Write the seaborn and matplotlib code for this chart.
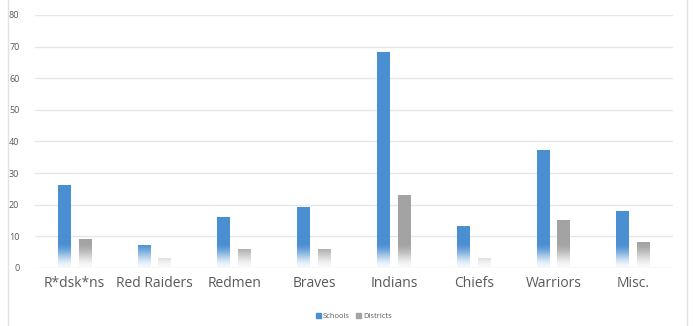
import numpy as np
import pandas as pd
import seaborn as sns
import matplotlib.pyplot as plt
from matplotlib.patches import Patch
from matplotlib.lines import Line2D
from matplotlib.colors import to_rgb

mascots = ["R*dsk*ns", "Red Raiders", "Redmen", "Braves", "Indians", "Chiefs", "Warriors", "Misc."]
schools = [26, 7, 16, 19, 68, 13, 37, 18]
districts = [9, 3, 6, 6, 23, 3, 15, 8]
series = ["Schools", "Districts"]
colors = ["#4a8fd2", "#a3a3a3"]

df = pd.DataFrame({
    "Mascot": mascots * 2,
    "Count": schools + districts,
    "Series": [series[0]] * len(mascots) + [series[1]] * len(mascots),
})

sns.set_style("white")
plt.rcParams["font.family"] = ["Open Sans", "DejaVu Sans"]
text_col = "#5a5a5a"

fig = plt.figure(figsize=(6.94, 3.26), dpi=100)
ax = fig.add_axes([0.050, 0.178, 0.920, 0.776])

sns.barplot(data=df, x="Mascot", y="Count", hue="Series", palette=colors,
            width=0.52, gap=0.38, ax=ax, legend=False)

xlim = ax.get_xlim()

# replace the flat bars with a white-to-colour fade at the bottom
fade = 8.0
for cont, col in zip(ax.containers, colors):
    rgb = np.array(to_rgb(col))
    for p in cont:
        x0, w, h = p.get_x(), p.get_width(), p.get_height()
        ys = np.linspace(0, h, 300)
        t = np.clip(ys / fade, 0, 1)
        t = t * t * (3 - 2 * t)
        t = 0.05 + 0.95 * t
        img = (1 - t)[:, None] * np.ones(3) + t[:, None] * rgb
        img = np.repeat(img[:, None, :], 2, axis=1)
        ax.imshow(img, origin="lower", extent=[x0, x0 + w, 0, h],
                  aspect="auto", interpolation="bilinear", zorder=3)
        p.set_visible(False)

ax.set_xlim(xlim)
ax.set_ylim(0, 80)
ax.set_yticks(range(0, 81, 10))
ax.grid(axis="y", color="#e3e6ea", linewidth=1)
ax.set_axisbelow(True)
for s in ax.spines.values():
    s.set_visible(False)

ax.set_xlabel("")
ax.set_ylabel("")
ax.tick_params(axis="y", length=0, pad=11, labelsize=6.5, labelcolor=text_col)
ax.tick_params(axis="x", length=0, pad=6, labelsize=10, labelcolor=text_col)

handles = [Patch(color=c) for c in colors]
ax.legend(handles, series, loc="center", bbox_to_anchor=(0.5, -0.193), ncol=2,
          frameon=False, fontsize=5.5, handlelength=0.6, handleheight=0.6,
          columnspacing=0.8, handletextpad=0.3, labelcolor=text_col)

# faint chart frame edges
fig.add_artist(Line2D([0.011, 0.011], [0, 1], transform=fig.transFigure, color="#e2e2e2", lw=1))
fig.add_artist(Line2D([0.990, 0.990], [0, 1], transform=fig.transFigure, color="#e2e2e2", lw=1))

plt.savefig("out.png", dpi=100)
